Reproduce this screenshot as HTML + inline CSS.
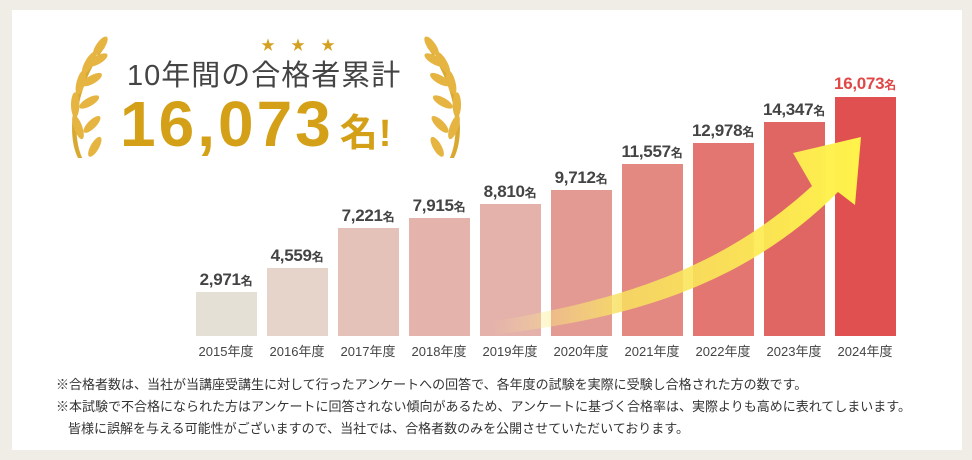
<!DOCTYPE html>
<html><head><meta charset="utf-8"><style>
body{margin:0;width:972px;height:460px;background:#efede6;font-family:"Liberation Sans","Noto Sans CJK JP",sans-serif;position:relative;overflow:hidden}
.card{position:absolute;left:12px;top:10px;width:950px;height:440px;background:#fff}
.bar{position:absolute;width:61px;bottom:124px}
.v{position:absolute;width:90px;text-align:center;font-size:17px;font-weight:bold;color:#444;letter-spacing:-0.3px}
.v small{font-size:12px}
.y{position:absolute;top:341px;width:80px;text-align:center;font-size:13px;color:#444}
.n{position:absolute;left:56px;font-size:13px;color:#333;white-space:nowrap}
</style></head><body>
<div class="card"></div>
<div class="bar" style="left:196px;height:44px;background:#e4e0d6"></div>
<div class="bar" style="left:267px;height:68px;background:#e6d3ca"></div>
<div class="bar" style="left:338px;height:108px;background:#e4c2b9"></div>
<div class="bar" style="left:409px;height:118px;background:#e4b3ab"></div>
<div class="bar" style="left:480px;height:132px;background:#e4b1ab"></div>
<div class="bar" style="left:551px;height:146px;background:#e39a92"></div>
<div class="bar" style="left:622px;height:172px;background:#e38982"></div>
<div class="bar" style="left:693px;height:193px;background:#e37670"></div>
<div class="bar" style="left:764px;height:214px;background:#e06664"></div>
<div class="bar" style="left:835px;height:239px;background:#e05050"></div>
<svg style="position:absolute;left:0;top:0" width="972" height="460">
<defs><linearGradient id="ag2" x1="490" y1="0" x2="860" y2="0" gradientUnits="userSpaceOnUse">
<stop offset="0" stop-color="#fff59a" stop-opacity="0"/><stop offset="0.35" stop-color="#f8e060" stop-opacity="0.85"/><stop offset="1" stop-color="#fff34a"/></linearGradient>
<g id="lau">
<path d="M0 0 C-22 20 -30 60 -20 80 L-17 80 C-26 60 -20 25 0 0Z" fill="#d9a830"/>
<ellipse cx="-4" cy="0" rx="3" ry="8" transform="rotate(35 -4 0)"/>
<ellipse cx="-12" cy="12" rx="3" ry="9" transform="rotate(30 -12 12)"/>
<ellipse cx="-18" cy="26" rx="3" ry="9" transform="rotate(15 -18 26)"/>
<ellipse cx="-22" cy="42" rx="3" ry="9" transform="rotate(0 -22 42)"/>
<ellipse cx="-20" cy="58" rx="3" ry="9" transform="rotate(-20 -20 58)"/>
<ellipse cx="-6" cy="10" rx="3" ry="8" transform="rotate(60 -6 10)"/>
<ellipse cx="-10" cy="24" rx="3" ry="8" transform="rotate(60 -10 24)"/>
<ellipse cx="-12" cy="40" rx="3" ry="8" transform="rotate(60 -12 40)"/>
<ellipse cx="-10" cy="56" rx="3" ry="8" transform="rotate(45 -10 56)"/>
<ellipse cx="-8" cy="72" rx="3" ry="8" transform="rotate(30 -8 72)"/>
</g></defs>
<path d="M490 322 C620 300 720 270 812 186 L793 153 L861 137 L855 205 L838 192 C740 290 620 320 490 335 Z" fill="url(#ag2)"/>
<g fill="#e6b440">
<use href="#lau" transform="translate(106,46) scale(1.4)"/>
<use href="#lau" transform="translate(426,46) scale(-1.4,1.4)"/>
</g>
<text x="268" y="50" font-size="14" fill="#d4a020" text-anchor="middle">★</text>
<text x="298" y="50" font-size="14" fill="#d4a020" text-anchor="middle">★</text>
<text x="328" y="50" font-size="14" fill="#d4a020" text-anchor="middle">★</text>
</svg>
<div style="position:absolute;left:127px;top:52px;font-size:29px;color:#444;letter-spacing:1px">10年間の合格者累計</div>
<div style="position:absolute;left:120px;top:92px;font-size:64px;font-weight:bold;color:#d4a017;letter-spacing:3px;line-height:64px">16,073<span style="font-size:38px;margin-left:6px;letter-spacing:1px">名!</span></div>
<div class="v" style="left:181px;top:270px">2,971<small>名</small></div>
<div class="v" style="left:252px;top:246px">4,559<small>名</small></div>
<div class="v" style="left:323px;top:206px">7,221<small>名</small></div>
<div class="v" style="left:394px;top:196px">7,915<small>名</small></div>
<div class="v" style="left:465px;top:182px">8,810<small>名</small></div>
<div class="v" style="left:536px;top:168px">9,712<small>名</small></div>
<div class="v" style="left:607px;top:142px">11,557<small>名</small></div>
<div class="v" style="left:678px;top:121px">12,978<small>名</small></div>
<div class="v" style="left:749px;top:100px">14,347<small>名</small></div>
<div class="v" style="left:820px;top:74px;color:#e04848">16,073<small>名</small></div>
<div class="y" style="left:186px">2015年度</div>
<div class="y" style="left:257px">2016年度</div>
<div class="y" style="left:328px">2017年度</div>
<div class="y" style="left:399px">2018年度</div>
<div class="y" style="left:470px">2019年度</div>
<div class="y" style="left:541px">2020年度</div>
<div class="y" style="left:612px">2021年度</div>
<div class="y" style="left:683px">2022年度</div>
<div class="y" style="left:754px">2023年度</div>
<div class="y" style="left:825px">2024年度</div>
<div class="n" style="top:374px">※合格者数は、当社が当講座受講生に対して行ったアンケートへの回答で、各年度の試験を実際に受験し合格された方の数です。</div>
<div class="n" style="top:396px">※本試験で不合格になられた方はアンケートに回答されない傾向があるため、アンケートに基づく合格率は、実際よりも高めに表れてしまいます。</div>
<div class="n" style="top:418px;left:68px">皆様に誤解を与える可能性がございますので、当社では、合格者数のみを公開させていただいております。</div>
</body></html>
